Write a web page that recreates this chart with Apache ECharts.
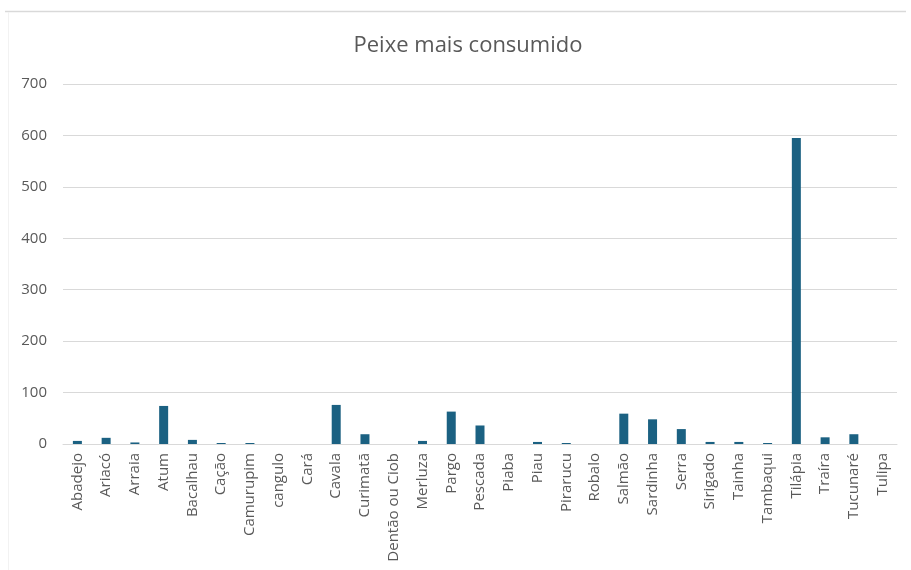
<!DOCTYPE html>
<html>
<head>
<meta charset="utf-8">
<script src="https://cdn.jsdelivr.net/npm/echarts@6/dist/echarts.min.js"></script>
<style>
html,body{margin:0;padding:0;background:#fff;}
#chart{width:911px;height:570px;}
</style>
</head>
<body>
<div id="chart"></div>
<script>
const categories = ["Abadejo","Ariacó","Arraia","Atum","Bacalhau","Cação","Camurupim","cangulo","Cará","Cavala","Curimatã","Dentão ou Ciob","Merluza","Pargo","Pescada","Piaba","Piau","Pirarucu","Robalo","Salmão","Sardinha","Serra","Sirigado","Tainha","Tambaqui","Tilápia","Traíra","Tucunaré","Tulipa"];
const values = [6,12,3,74,8,2,2,0,0,76,19,0,6,63,36,0,4,2,0,59,48,29,4,4,2,595,13,19,0];
const yTicks = [0,100,200,300,400,500,600,700];

const chart = echarts.init(document.getElementById('chart'));
chart.setOption({
  animation:false,
  backgroundColor:'#fff',
  title:{
    text:'Peixe mais consumido',
    left:463, top:30, textAlign:'center',
    textStyle:{fontFamily:'Open Sans',fontSize:22,fontWeight:'normal',color:'#595959'}
  },
  graphic:[
    {type:'line',shape:{x1:5,y1:11.5,x2:906,y2:11.5},style:{stroke:'#d9d9d9',lineWidth:1.5}},
    {type:'line',shape:{x1:8.5,y1:12,x2:8.5,y2:570},style:{stroke:'#f2f2f2',lineWidth:1}}
  ],
  grid:{left:63,right:14,top:84,bottom:126,containLabel:false},
  xAxis:{
    type:'category',
    data:categories,
    axisTick:{show:false},
    axisLine:{lineStyle:{color:'#d9d9d9',width:1}},
    axisLabel:{rotate:90,interval:0,margin:9,fontFamily:'Open Sans',fontSize:15,color:'#595959'}
  },
  yAxis:{
    type:'value',
    min:yTicks[0],max:yTicks[yTicks.length-1],interval:100,
    axisLine:{show:false},axisTick:{show:false},
    splitLine:{lineStyle:{color:'#d9d9d9',width:1}},
    axisLabel:{margin:16,fontFamily:'Open Sans',fontSize:15,color:'#595959'}
  },
  series:[{
    type:'bar',
    data:values,
    barWidth:9,
    itemStyle:{color:'#1b6182'}
  }]
});
</script>
</body>
</html>
